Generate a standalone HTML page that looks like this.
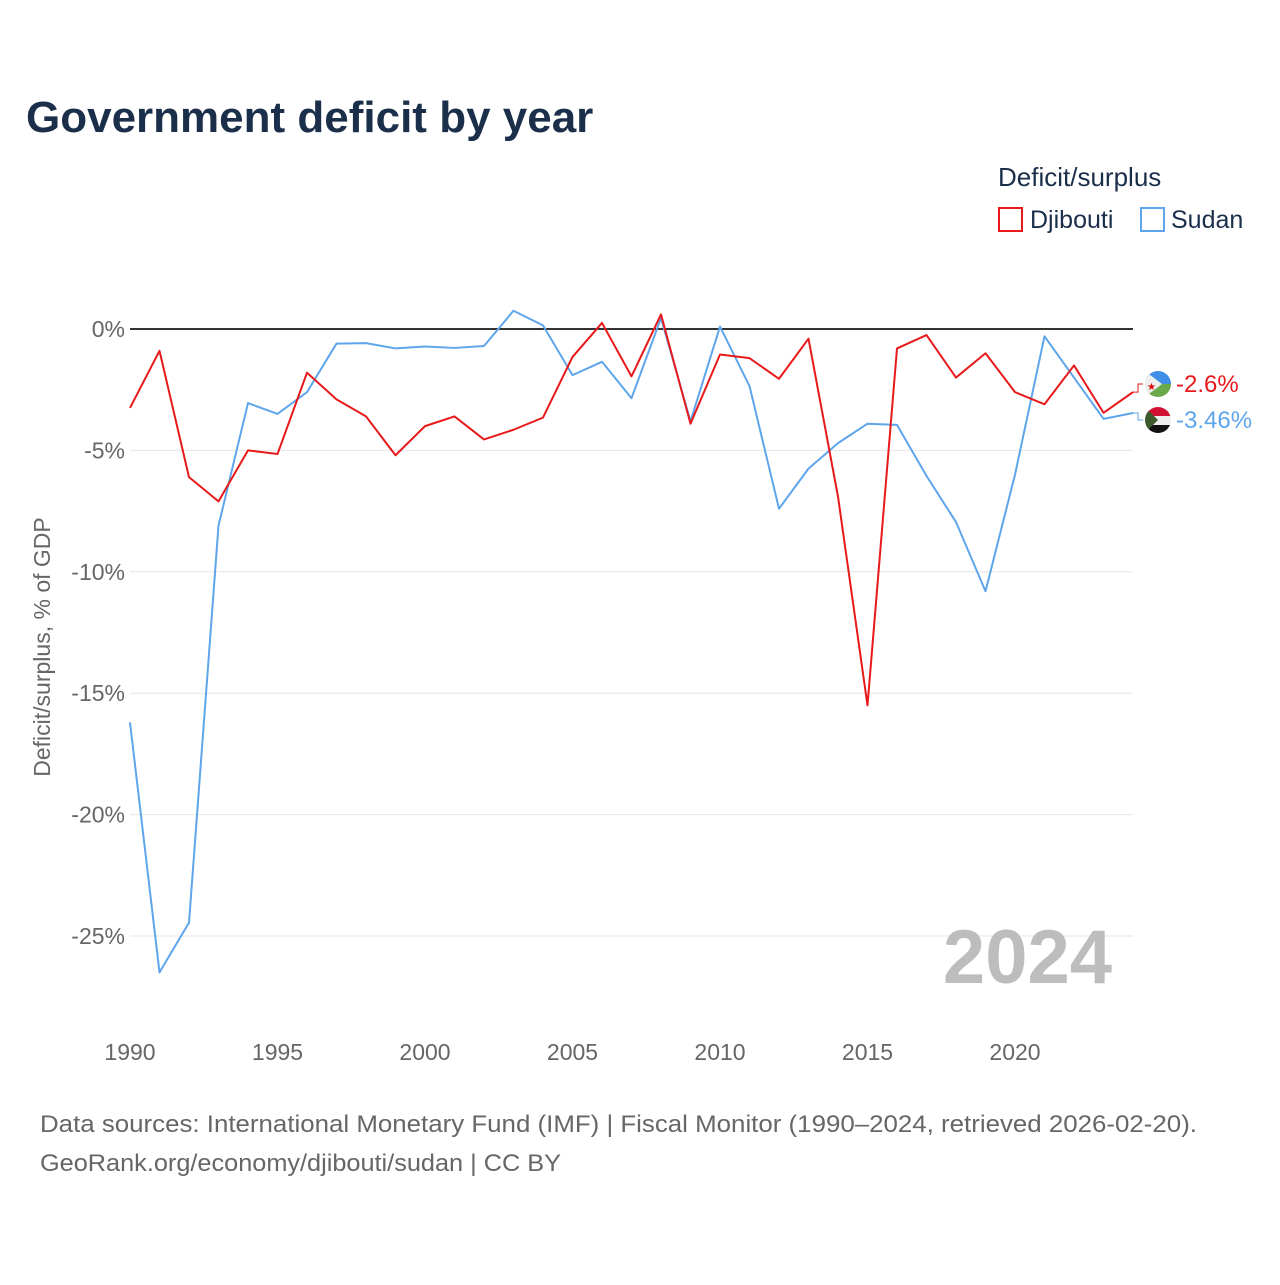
<!DOCTYPE html>
<html><head><meta charset="utf-8"><style>
body{margin:0;background:#fff;width:1280px;height:1280px;overflow:hidden;font-family:"Liberation Sans",sans-serif}
</style></head><body>
<svg id="chart" width="1280" height="1280" xmlns="http://www.w3.org/2000/svg">
<text x="26" y="132" font-size="44" font-weight="bold" fill="#1b2f4b">Government deficit by year</text>
<text x="998" y="186" font-size="26" fill="#1b2f4b">Deficit/surplus</text>
<g><rect x="999" y="208" width="23" height="23" fill="none" stroke="#e8191a" stroke-width="2"/><text x="1030" y="228" font-size="25" fill="#1b2f4b">Djibouti</text></g>
<g><rect x="1141" y="208" width="23" height="23" fill="none" stroke="#5ea5ec" stroke-width="2"/><text x="1171" y="228" font-size="25" fill="#1b2f4b">Sudan</text></g>
<text transform="translate(50,647) rotate(-90)" text-anchor="middle" font-size="23" fill="#666">Deficit/surplus, % of GDP</text>
<g id="grid"></g><g id="lines"></g>
<text x="1112" y="983" text-anchor="end" font-size="76" font-weight="bold" fill="#bdbdbd">2024</text>
<text x="40" y="1132" font-size="24" fill="#666" textLength="1157" lengthAdjust="spacingAndGlyphs">Data sources: International Monetary Fund (IMF) | Fiscal Monitor (1990–2024, retrieved 2026-02-20).</text>
<text x="40" y="1171" font-size="24" fill="#666" textLength="521" lengthAdjust="spacingAndGlyphs">GeoRank.org/economy/djibouti/sudan | CC BY</text>
<defs><clipPath id="c1"><circle cx="1158" cy="384" r="13"/></clipPath><clipPath id="c2"><circle cx="1158" cy="420" r="13"/></clipPath></defs>
<g clip-path="url(#c1)"><rect x="1145" y="371" width="26" height="13" fill="#3f8fe8"/><rect x="1145" y="384" width="26" height="13" fill="#6aa94a"/><polygon points="1145,371 1162,384 1145,397" fill="#eee"/><text x="1147" y="390" font-size="10" fill="#d00">★</text></g>
<g clip-path="url(#c2)"><rect x="1145" y="407" width="26" height="9" fill="#d21034"/><rect x="1145" y="416" width="26" height="9" fill="#eee"/><rect x="1145" y="425" width="26" height="9" fill="#111"/><polygon points="1145,407 1158,420 1145,433" fill="#3d5a2c"/></g>
</svg>
<script>
const years=[1990,1991,1992,1993,1994,1995,1996,1997,1998,1999,2000,2001,2002,2003,2004,2005,2006,2007,2008,2009,2010,2011,2012,2013,2014,2015,2016,2017,2018,2019,2020,2021,2022,2023,2024];
const djibouti=[-3.25,-0.9,-6.1,-7.1,-5.0,-5.15,-1.8,-2.9,-3.6,-5.2,-4.0,-3.6,-4.55,-4.15,-3.65,-1.15,0.25,-1.95,0.6,-3.9,-1.05,-1.2,-2.05,-0.4,-6.9,-15.5,-0.8,-0.25,-2.0,-1.0,-2.6,-3.1,-1.5,-3.45,-2.6];
const sudan=[-16.2,-26.5,-24.45,-8.1,-3.05,-3.5,-2.6,-0.6,-0.58,-0.8,-0.72,-0.78,-0.7,0.75,0.15,-1.9,-1.35,-2.85,0.45,-3.8,0.1,-2.35,-7.4,-5.75,-4.7,-3.9,-3.95,-6.05,-7.95,-10.8,-6.0,-0.3,-2.0,-3.7,-3.46];
const yTicks=[0,-5,-10,-15,-20,-25];
const xTicks=[1990,1995,2000,2005,2010,2015,2020];
const NS="http://www.w3.org/2000/svg";
const x=v=>130+(v-1990)*(1133-130)/34;
const y=v=>329+(-v)*(936-329)/25;
function mk(tag,attrs,parent){const e=document.createElementNS(NS,tag);for(const k in attrs)e.setAttribute(k,attrs[k]);parent.appendChild(e);return e;}
const grid=document.getElementById('grid'),lines=document.getElementById('lines');
yTicks.forEach(t=>{
 if(t!==0){const l=mk('line',{x1:130,x2:1133,y1:y(t),y2:y(t),stroke:'#e6e6e6','stroke-width':1},grid);
 
 }
 const tx=mk('text',{x:125,y:y(t)+8,'text-anchor':'end','font-size':23,fill:'#666'},grid);tx.textContent=t+'%';
 
 
});
xTicks.forEach(t=>{const tx=mk('text',{x:x(t),y:1060,'text-anchor':'middle','font-size':23,fill:'#666'},grid);tx.textContent=t;
 
 });
const z=mk('line',{x1:130,x2:1133,y1:y(0),y2:y(0),stroke:'#333','stroke-width':2},grid);


function series(data,color,name,ly,label){
 const p=mk('polyline',{points:data.map((v,i)=>x(years[i])+','+y(v)).join(' '),fill:'none',stroke:color,'stroke-width':2,'stroke-linejoin':'round'},lines);
 
 
 const lx=x(years[years.length-1]),vy=y(data[data.length-1]);
 const c=mk('polyline',{points:`${lx},${vy} ${lx+5},${vy} ${lx+5},${ly} ${lx+10},${ly}`,fill:'none',stroke:color,'stroke-width':1},lines);
 
 
 const t=mk('text',{x:1176,y:ly+8,'font-size':24,fill:color},lines);t.textContent=label;
 
 
}
series(sudan,'#5ea5ec','sudan',420,sudan[sudan.length-1]+'%');
series(djibouti,'#e8191a','djibouti',384,djibouti[djibouti.length-1]+'%');
</script>
</body></html>
